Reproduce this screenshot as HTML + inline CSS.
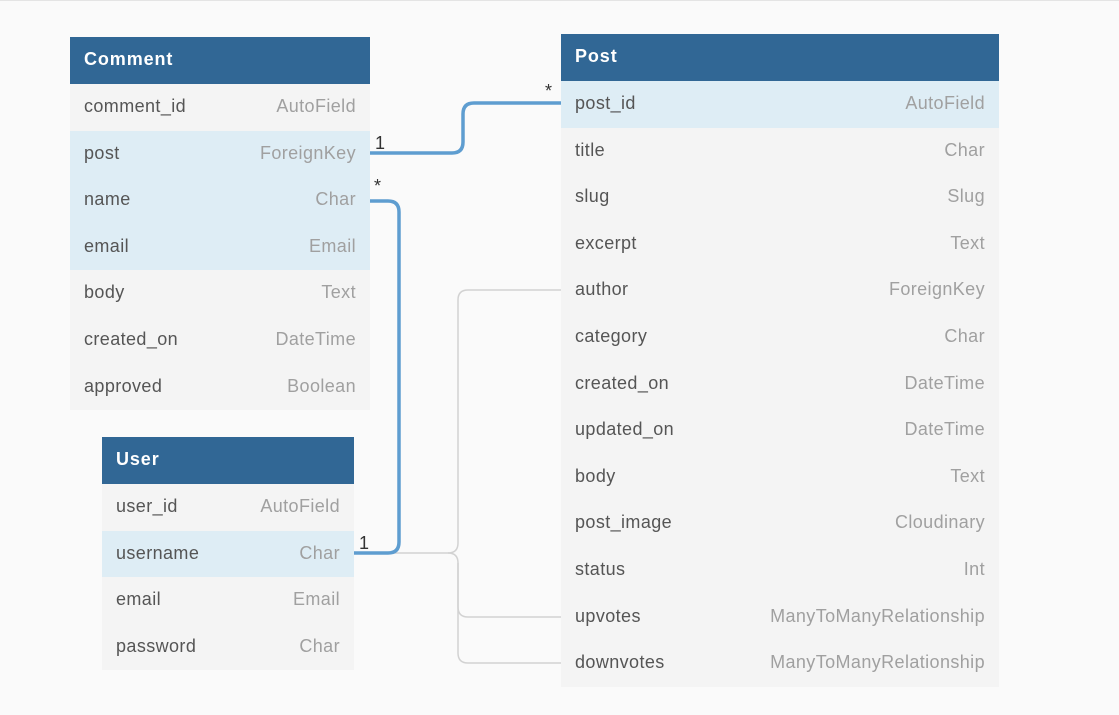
<!DOCTYPE html>
<html><head><style>
body{margin:0;width:1119px;height:715px;background:#fafafa;font-family:"Liberation Sans",sans-serif;position:relative;overflow:hidden}
.tb{position:absolute;left:0;top:0;width:1119px;height:1px;background:#e4e4e4}
.t{position:absolute;background:#f4f4f4}
.h{background:#316795;color:#fff;font-weight:bold;font-size:18px;letter-spacing:0.9px;height:47px;line-height:44px;padding-left:14px;box-sizing:border-box}
.r{height:46.6px;line-height:45px;font-size:18px;letter-spacing:0.4px;color:#555;padding:0 14px;display:flex;justify-content:space-between;box-sizing:border-box}
.r span{color:#a0a0a0}
.hl{background:#deedf5}
svg{position:absolute;left:0;top:0}
.l{position:absolute;font-size:18px;color:#333}
</style></head><body>
<div class="tb"></div>
<svg width="1119" height="715">
<g fill="none" stroke="#d2d2d2" stroke-width="1.5">
<path d="M354 553 H448 Q458 553 458 543 V300 Q458 290 468 290 H561"/>
<path d="M448 553 Q458 553 458 563 V607 Q458 617 468 617 H561"/>
<path d="M458 563 V653 Q458 663 468 663 H561"/>
</g>
<g fill="none" stroke="#5e9dd0" stroke-width="3.5">
<path d="M370 153 H452 Q463 153 463 142 V114 Q463 103 474 103 H561"/>
<path d="M370 201 H388 Q399 201 399 212 V542 Q399 553 388 553 H354"/>
</g>
</svg>
<div class="l" style="left:375px;top:133px">1</div>
<div class="l" style="left:545px;top:81px">*</div>
<div class="l" style="left:374px;top:176px">*</div>
<div class="l" style="left:359px;top:533px">1</div>
<div class="t" style="left:70px;top:37px;width:300px">
<div class="h">Comment</div>
<div class="r">comment_id<span>AutoField</span></div>
<div class="r hl">post<span>ForeignKey</span></div>
<div class="r hl">name<span>Char</span></div>
<div class="r hl">email<span>Email</span></div>
<div class="r">body<span>Text</span></div>
<div class="r">created_on<span>DateTime</span></div>
<div class="r">approved<span>Boolean</span></div>
</div>
<div class="t" style="left:102px;top:437px;width:252px">
<div class="h">User</div>
<div class="r">user_id<span>AutoField</span></div>
<div class="r hl">username<span>Char</span></div>
<div class="r">email<span>Email</span></div>
<div class="r">password<span>Char</span></div>
</div>
<div class="t" style="left:561px;top:34px;width:438px">
<div class="h">Post</div>
<div class="r hl">post_id<span>AutoField</span></div>
<div class="r">title<span>Char</span></div>
<div class="r">slug<span>Slug</span></div>
<div class="r">excerpt<span>Text</span></div>
<div class="r">author<span>ForeignKey</span></div>
<div class="r">category<span>Char</span></div>
<div class="r">created_on<span>DateTime</span></div>
<div class="r">updated_on<span>DateTime</span></div>
<div class="r">body<span>Text</span></div>
<div class="r">post_image<span>Cloudinary</span></div>
<div class="r">status<span>Int</span></div>
<div class="r">upvotes<span>ManyToManyRelationship</span></div>
<div class="r">downvotes<span>ManyToManyRelationship</span></div>
</div>
</body></html>
